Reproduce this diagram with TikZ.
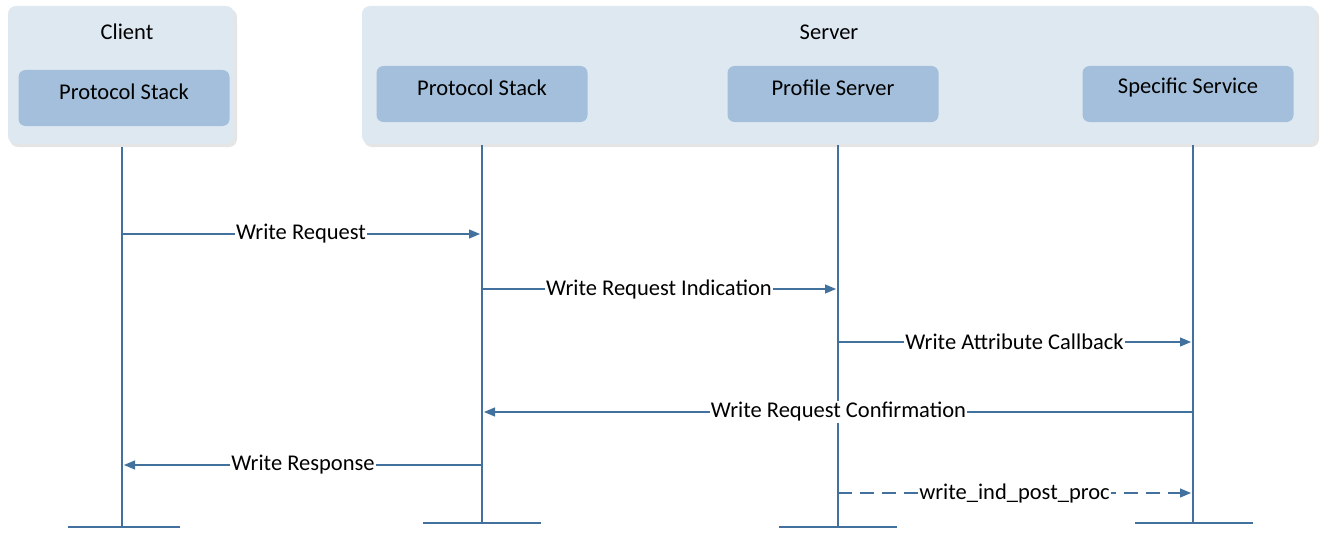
\documentclass[tikz,border=0pt]{standalone}
\usepackage{fontspec}
\setmainfont{Carlito}
\usetikzlibrary{arrows.meta}
\definecolor{cont}{HTML}{DEE8F1}
\definecolor{box}{HTML}{A3BFDB}
\definecolor{ln}{HTML}{41719C}
\begin{document}
\begin{tikzpicture}[x=1pt,y=-1pt,
  container/.style={fill=cont,rounded corners=8pt,draw=none},
  part/.style={fill=box,rounded corners=7pt,minimum width=211pt,minimum height=56pt,inner sep=0pt},
  txt/.style={font=\fontsize{22.5}{26}\selectfont},
  life/.style={draw=ln,line width=1.5pt},
  msg/.style={draw=ln,line width=1.2pt,-{Triangle[length=11pt,width=9pt]}},
  lab/.style={fill=white,inner sep=1pt,txt}]
\useasboundingbox (0,0) rectangle (1331,543);
\fill[black!10,rounded corners=8pt] (10,9) rectangle (237,147);
\fill[black!10,rounded corners=8pt] (364,9) rectangle (1319,147);
\fill[container] (8,6) rectangle (234,144);
\fill[container] (362,6) rectangle (1316,144);
\node[txt] (cl) at (127,32) {Client};
\node[txt] (sv) at (829,32) {Server};
\node[part] (cps) at (124,98) {};
\node[part] (sps) at (482,94) {};
\node[part] (prs) at (833,94) {};
\node[part] (ss) at (1188,94) {};
\node[txt] at ([yshift=6pt]cps.center) {Protocol Stack};
\node[txt] at ([yshift=6pt]sps.center) {Protocol Stack};
\node[txt] at ([yshift=6pt]prs.center) {Profile Server};
\node[txt] at ([yshift=6pt]ss.center) {Specific Service};
\coordinate (a1) at (122,147); \coordinate (a2) at (122,527);
\coordinate (b1) at (482,145); \coordinate (b2) at (482,523);
\coordinate (c1) at (838,145); \coordinate (c2) at (838,527);
\coordinate (d1) at (1193,145); \coordinate (d2) at (1193,523);
\draw[life] (a1)--(a2); \draw[life] (68,527)--(180,527);
\draw[life] (b1)--(b2); \draw[life] (423,523)--(541,523);
\draw[life] (c1)--(c2); \draw[life] (779,527)--(897,527);
\draw[life] (d1)--(d2); \draw[life] (1135,523)--(1253,523);
\draw[msg] (122,234)--(480,234) node[lab,midway]{Write Request};
\draw[msg] (482,289)--(836,289) node[lab,midway]{Write Request Indication};
\draw[msg] (838,342)--(1191,342) node[lab,midway]{Write Attribute Callback};
\draw[msg] (1193,412)--(484,412) node[lab,midway]{Write Request Confirmation};
\draw[msg] (482,465)--(124,465) node[lab,midway]{Write Response};
\draw[msg,dash pattern=on 14pt off 8pt] (838,493)--(1191,493) node[lab,midway]{write\_ind\_post\_proc};
\end{tikzpicture}
\end{document}
